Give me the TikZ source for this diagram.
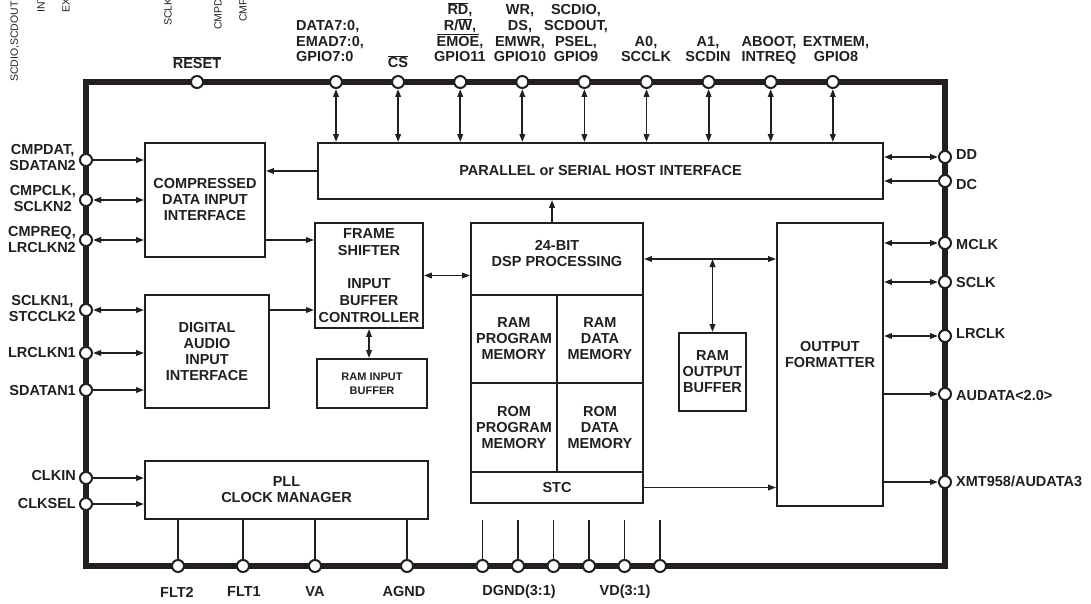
\documentclass[tikz,border=0pt]{standalone}
\usepackage{fontspec}
\setmainfont{Liberation Sans}
\usetikzlibrary{arrows.meta, positioning}
\definecolor{ink}{RGB}{35,31,32}
\newcommand{\ovl}[1]{$\overline{\mbox{#1}}$}

\begin{document}
\begin{tikzpicture}[x=1pt, y=-1pt, color=ink,
    every node/.style={text=ink, font=\fontsize{14.5}{16}\bfseries\selectfont},
    blk/.style={draw, line width=1.8pt, align=center, inner sep=0pt},
    pin/.style={circle, draw, fill=white, line width=2pt, inner sep=0pt, minimum size=12pt},
    sig/.style={line width=1.8pt, -{Triangle[length=8pt, width=5.5pt]}},
    bus/.style={line width=1.8pt, {Triangle[length=8pt, width=5.5pt]}-{Triangle[length=8pt, width=5.5pt]}},
    lbl/.style={align=center, inner sep=0pt},
    toplbl/.style={lbl, anchor=south, text depth=0pt, font=\fontsize{14.5}{15.7}\bfseries\selectfont},
    faint/.style={font=\fontsize{10.5}{12}\selectfont, rotate=90, anchor=west, inner sep=0pt}
]
\useasboundingbox (0,0) rectangle (1091,604);
\clip (0,0) rectangle (1091,604);

% cut-off pin names at the top edge
\node[faint] (r1) at (15,82) {SCDIO,SCDOUT};
\node[faint] (r2) at (41,13) {INT};
\node[faint] (r3) at (66,13) {EX};
\node[faint] (r4) at (168,26) {SCLK};
\node[faint] (r5) at (218,30) {CMPD};
\node[faint] (r6) at (243,22) {CMP};

% chip outline
\node[draw, line width=6pt, minimum width=859pt, minimum height=484pt, inner sep=0pt] (chip) at (515.5,324) {};

% blocks
\node[blk, minimum width=565pt, minimum height=56pt] (host) at (600.5,171) {PARALLEL or SERIAL HOST INTERFACE};
\node[blk, minimum width=120pt, minimum height=114pt] (cdi) at (205,200) {COMPRESSED\\DATA INPUT\\INTERFACE};
\node[blk, minimum width=124pt, minimum height=113pt] (dai) at (207,351.5) {DIGITAL\\AUDIO\\INPUT\\INTERFACE};
\node[blk, minimum width=108pt, minimum height=105pt, font=\fontsize{14.5}{16.8}\bfseries\selectfont] (fsh) at (369,275.5) {FRAME\\SHIFTER\\~\\INPUT\\BUFFER\\CONTROLLER};
\node[blk, minimum width=110pt, minimum height=49pt, font=\fontsize{11}{14}\bfseries\selectfont] (ribuf) at (372,383.5) {RAM INPUT\\BUFFER};
\node[blk, minimum width=283pt, minimum height=58pt] (pll) at (286.5,490) {PLL\\CLOCK MANAGER};
\node[blk, minimum width=172pt, minimum height=72pt, text depth=12pt] (dspcore) at (557,259) {24-BIT\\DSP PROCESSING};
\node[blk, minimum width=86pt, minimum height=88pt] (rampm) at (514,339) {RAM\\PROGRAM\\MEMORY};
\node[blk, minimum width=86pt, minimum height=88pt] (ramdm) at (600,339) {RAM\\DATA\\MEMORY};
\node[blk, minimum width=86pt, minimum height=89pt] (rompm) at (514,427.5) {ROM\\PROGRAM\\MEMORY};
\node[blk, minimum width=86pt, minimum height=89pt] (romdm) at (600,427.5) {ROM\\DATA\\MEMORY};
\node[blk, minimum width=172pt, minimum height=31pt] (stc) at (557,487.5) {STC};
\node[blk, minimum width=67pt, minimum height=78pt] (robuf) at (712.5,372) {RAM\\OUTPUT\\BUFFER};
\node[blk, minimum width=106pt, minimum height=283pt, text depth=20pt] (ofmt) at (830,364.5) {OUTPUT\\FORMATTER};

% pins
\node[pin] (reset) at (197,82) {};
\foreach \i in {1,...,9}
  \node[pin] (t\i) at ({336+62.1*(\i-1)},82) {};
\foreach \n/\y in {cmpdat/160, cmpclk/200, cmpreq/240, sclkn1/310, lrclkn1/353, sdatan1/390, clkin/478, clksel/504}
  \node[pin] (\n) at (86,\y) {};
\foreach \n/\y in {dd/157, dc/181, mclk/243, sclk/282, lrclk/336, aud/394, xmt/482}
  \node[pin] (\n) at (945,\y) {};
\foreach \n/\x in {flt2/178, flt1/243, va/315, agnd/407}
  \node[pin] (\n) at (\x,566) {};
\foreach \i in {1,...,6}
  \node[pin] (d\i) at ({482.5+35.5*(\i-1)},566) {};

% connections
\foreach \i in {1,...,9}
  \draw[bus] (t\i) -- (t\i |- host.north);
\draw[sig] (host.west) -- (host.west -| cdi.east);
\draw[bus] (host.east |- dd) -- (dd);
\draw[sig] (dc) -- (dc -| host.east);
\draw[sig] (cmpdat) -- (cmpdat -| cdi.west);
\draw[bus] (cmpclk) -- (cmpclk -| cdi.west);
\draw[bus] (cmpreq) -- (cmpreq -| cdi.west);
\draw[sig] (cmpreq -| cdi.east) -- (cmpreq -| fsh.west);
\draw[bus] (sclkn1) -- (sclkn1 -| dai.west);
\draw[bus] (lrclkn1) -- (lrclkn1 -| dai.west);
\draw[sig] (sdatan1) -- (sdatan1 -| dai.west);
\draw[sig] (sclkn1 -| dai.east) -- (sclkn1 -| fsh.west);
\draw[bus] (fsh.east) -- (fsh.east -| dspcore.west);
\draw[bus] (fsh.south) -- (fsh.south |- ribuf.north);
\draw[sig] ([xshift=-5pt]dspcore.north) -- ([xshift=-5pt]dspcore.north |- host.south);
\draw[bus] (dspcore.east) -- (dspcore.east -| ofmt.west);
\coordinate (tap) at (robuf.north |- dspcore.east);
\draw[bus] (tap) -- (robuf.north);
\foreach \p in {mclk, sclk, lrclk}
  \draw[bus] (ofmt.east |- \p) -- (\p);
\foreach \p in {aud, xmt}
  \draw[sig] (ofmt.east |- \p) -- (\p);
\draw[sig] (stc.east) -- (stc.east -| ofmt.west);
\foreach \p in {clkin, clksel}
  \draw[sig] (\p) -- (\p -| pll.west);
\foreach \p in {flt2, flt1, va, agnd}
  \draw[line width=1.8pt] (\p |- pll.south) -- (\p);
\coordinate (dtop) at (0,520);
\foreach \i in {1,...,6}
  \draw[line width=1.8pt] (d\i |- dtop) -- (d\i);

% pin names
\node[lbl, anchor=south] (lreset) at (197,69) {\ovl{RESET}};
\node[toplbl, anchor=south west, align=left] (ldata) at (296,62) {DATA7:0,\\EMAD7:0,\\GPIO7:0};
\node[lbl, anchor=south] (lcs) at (398,68) {\ovl{CS}};
\node[toplbl] (lrd) at (460,62) {\ovl{RD},\\R/\ovl{W},\\\ovl{EMOE},\\GPIO11};
\node[toplbl] (lwr) at (520,62) {WR,\\DS,\\EMWR,\\GPIO10};
\node[toplbl] (lscdio) at (576,62) {SCDIO,\\SCDOUT,\\PSEL,\\GPIO9};
\node[toplbl] (la0) at (646,62) {A0,\\SCCLK};
\node[toplbl] (la1) at (708,62) {A1,\\SCDIN};
\node[toplbl] (laboot) at (769,62) {ABOOT,\\INTREQ};
\node[toplbl] (lextmem) at (836,62) {EXTMEM,\\GPIO8};

\node[lbl, anchor=east] (lcmpdat) at (76,158) {CMPDAT,\\SDATAN2};
\node[lbl, anchor=east] (lcmpclk) at (76,199) {CMPCLK,\\SCLKN2};
\node[lbl, anchor=east] (lcmpreq) at (76,240) {CMPREQ,\\LRCLKN2};
\node[lbl, anchor=east] (lsclkn1) at (76,309) {SCLKN1,\\STCCLK2};
\node[lbl, anchor=east] (llrclkn1) at (76,353) {LRCLKN1};
\node[lbl, anchor=east] (lsdatan1) at (76,391) {SDATAN1};
\node[lbl, anchor=east] (lclkin) at (76,476) {CLKIN};
\node[lbl, anchor=east] (lclksel) at (76,504) {CLKSEL};

\node[lbl, anchor=west] (ldd) at (956,155) {DD};
\node[lbl, anchor=west] (ldc) at (956,185) {DC};
\node[lbl, anchor=west] (lmclk) at (956,245) {MCLK};
\node[lbl, anchor=west] (lsclk) at (956,283) {SCLK};
\node[lbl, anchor=west] (llrclk) at (956,334) {LRCLK};
\node[lbl, anchor=west] (laud) at (956,396) {AUDATA<2.0>};
\node[lbl, anchor=west] (lxmt) at (956,481) {XMT958/AUDATA3};

\node[lbl] (lflt2) at (177,592) {FLT2};
\node[lbl] (lflt1) at (244,592) {FLT1};
\node[lbl] (lva) at (315,592) {VA};
\node[lbl] (lagnd) at (404,592) {AGND};
\node[lbl] (ldgnd) at (519,592) {DGND(3:1)};
\node[lbl] (lvd) at (625,592) {VD(3:1)};
\end{tikzpicture}
\end{document}
